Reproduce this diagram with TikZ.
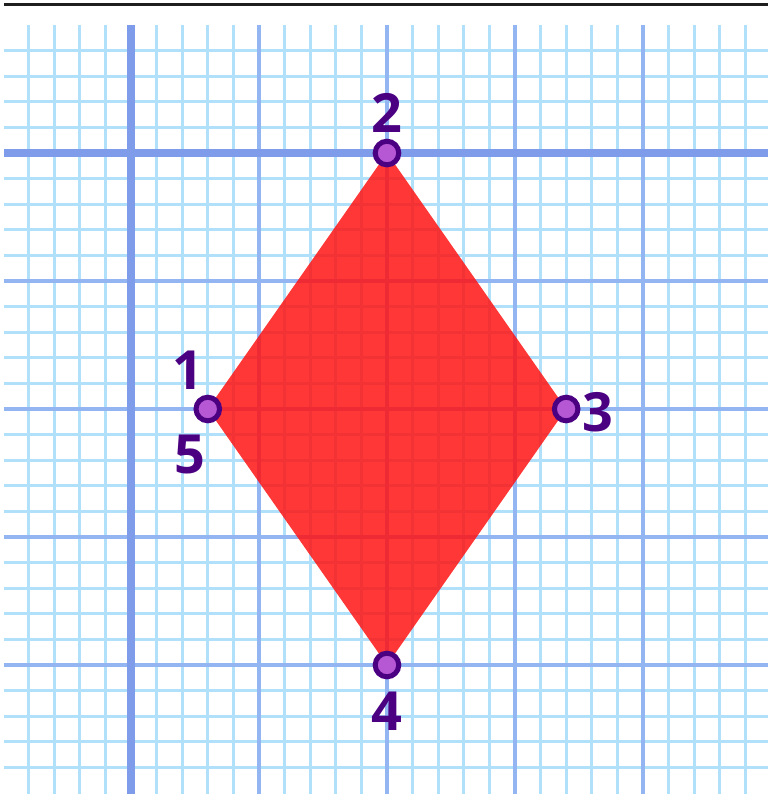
\documentclass[tikz,border=0pt]{standalone}
\usepackage{fontspec}
\setmainfont{Open Sans}
\usepackage{tikz}
\definecolor{finegrid}{RGB}{176,224,250}
\definecolor{majorgrid}{RGB}{147,181,242}
\definecolor{axisgrid}{RGB}{126,156,234}
\definecolor{shapered}{RGB}{255,20,20}
\definecolor{dotfill}{RGB}{182,88,212}
\definecolor{dotedge}{RGB}{75,0,130}
\tikzset{
	dot/.style={circle,inner sep=0pt,minimum size=4.6mm,line width=2.8pt,draw=dotedge,fill=dotfill},
	num/.style={anchor=center,inner sep=0pt,text=dotedge,font=\fontsize{30}{30}\selectfont\bfseries}
}

\begin{document}
\begin{tikzpicture}[x=0.5cm,y=0.5cm]
						\useasboundingbox (-5.117,5.977) rectangle (24.883,-25.039);
						\draw [line width=1.5pt,black!88] (-4.96,5.81) -- (24.883,5.81);

						\begin{scope}
							\clip (-4.96,5) rectangle (24.883,-25.039);
							\foreach \i in {-4,...,24}
								\draw [finegrid,line width=1.7pt] (\i,5) -- (\i,-25.1);
							\foreach \j in {-24,...,4}
								\draw [finegrid,line width=1.7pt] (-5,\j) -- (25,\j);
							\foreach \i in {5,10,15,20}
								\draw [majorgrid,line width=2.3pt] (\i,5) -- (\i,-25.1);
							\foreach \j in {-20,-15,-10,-5}
								\draw [majorgrid,line width=2.3pt] (-5,\j) -- (25,\j);
							\draw [axisgrid,line width=4.4pt] (0,5) -- (0,-25.1);
							\draw [axisgrid,line width=4.4pt] (-5,0) -- (25,0);
						\end{scope}

						\coordinate (p1) at (3,-10);
						\coordinate (p2) at (10,0);
						\coordinate (p3) at (17,-10);
						\coordinate (p4) at (10,-20);
						\fill [shapered,fill opacity=0.85] (p1) -- (p2) -- (p3) -- (p4) -- cycle;

						\node [dot,label={[num,label distance=5.7mm]117:1},label={[num,label distance=6.8mm]249:5}] (v1) at (p1) {};
						\node [dot,label={[num,label distance=5mm]90:2}] (v2) at (p2) {};
						\node [dot,label={[num,label distance=3.4mm]-5:3}] (v3) at (p3) {};
						\node [dot,label={[num,label distance=6.2mm]-90:4}] (v4) at (p4) {};
					\end{tikzpicture}
\end{document}
